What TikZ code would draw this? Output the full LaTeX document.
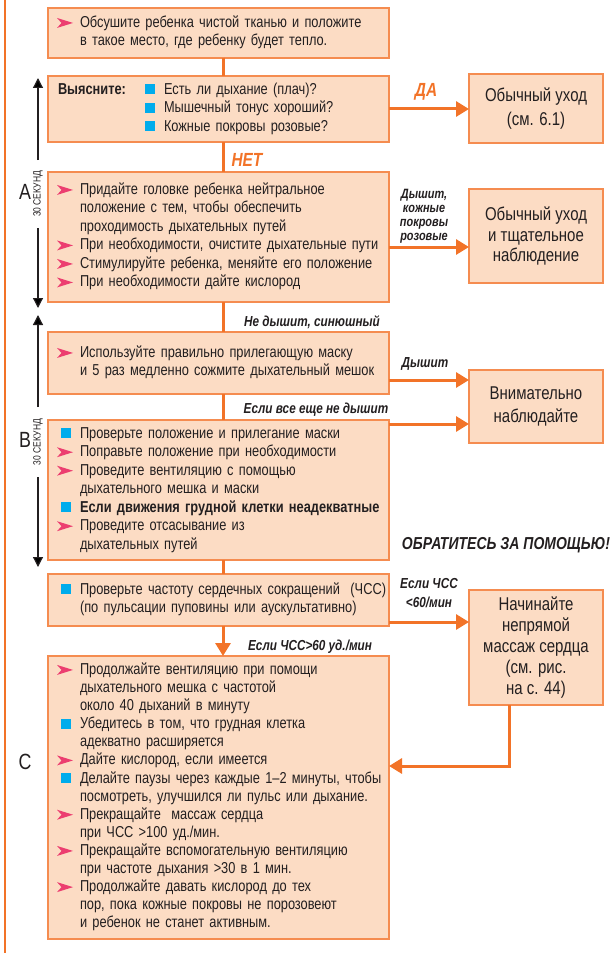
\documentclass[tikz,border=0pt]{standalone}
\usepackage{fontspec}
\setmainfont[FakeStretch=0.81]{Liberation Sans}
\usetikzlibrary{arrows.meta}
\definecolor{boxfill}{RGB}{252,220,196}
\definecolor{boxline}{RGB}{245,140,80}
\definecolor{connc}{RGB}{242,115,40}
\definecolor{pinkc}{RGB}{236,62,112}
\definecolor{bluec}{RGB}{0,172,236}
\definecolor{textc}{RGB}{35,31,32}
\newcommand{\pk}{\makebox[28pt][l]{\hspace{5pt}\tikz[baseline=0.5pt]\fill[pinkc] (0pt,0pt)--(16pt,5pt)--(0pt,10pt)--(4.5pt,5pt)--cycle;}}
\newcommand{\sqb}{\makebox[28pt][l]{\hspace{9pt}\textcolor{bluec}{\rule[0pt]{10pt}{10pt}}}}
\newcommand{\ind}{\hspace*{28pt}}
\begin{document}
\begin{tikzpicture}[x=1pt,y=-1pt,
  box/.style={draw=boxline, fill=boxfill, line width=1.3pt, inner sep=0pt, outer sep=0pt, rectangle, anchor=north west, text=textc, minimum width=341pt, text width=333pt, align=left},
  tbox/.style={draw=boxline, fill=boxfill, line width=1.3pt, inner sep=0pt, outer sep=0pt, rectangle, anchor=north west, text=textc, minimum width=134pt, align=center},
  conn/.style={draw=connc, line width=3pt},
  arr/.style={draw=connc, line width=3pt, -{Triangle[length=13pt,width=15pt]}},
  blk/.style={draw=textc, line width=1.2pt, -{Triangle[length=10pt,width=10pt]}},
  lbl/.style={text=textc, font=\fontsize{14.5}{15}\selectfont\bfseries\itshape, inner sep=0pt},
  olbl/.style={text=connc, font=\fontsize{19}{19}\selectfont\bfseries\itshape, inner sep=0pt},
  bigl/.style={text=textc, font=\fontsize{22}{22}\selectfont, inner sep=0pt},
  secl/.style={text=textc, font=\fontsize{10.5}{11}\selectfont, inner sep=0pt, rotate=90},
  mainf/.style={font=\fontsize{15.8}{18.5}\selectfont}
]
\useasboundingbox (0,0) rectangle (614,955);
% left orange rule
\coordinate (ltop) at (5,0);
\coordinate (lbot) at (5,953);
\draw[draw=connc, line width=1.3pt] (ltop) -- (lbot);
% spine coordinates
\coordinate (sx) at (223,0);
% boxes
\node[box, mainf, minimum height=50pt] (b1) at (48,8) {\begin{tabular}{@{}l@{}}
\pk Обсушите ребенка чистой тканью и положите\\
\ind в такое место, где ребенку будет тепло.
\end{tabular}};
\node[box, mainf, minimum height=66pt] (b2) at (48,76) {\begin{tabular}{@{}l@{}}
\hspace*{6pt}\makebox[87pt][l]{\textbf{Выясните:}}\textcolor{bluec}{\rule{10pt}{10pt}}\hspace{9pt}Есть ли дыхание (плач)?\\
\hspace*{93pt}\textcolor{bluec}{\rule{10pt}{10pt}}\hspace{9pt}Мышечный тонус хороший?\\
\hspace*{93pt}\textcolor{bluec}{\rule{10pt}{10pt}}\hspace{9pt}Кожные покровы розовые?
\end{tabular}};
\node[box, mainf, minimum height=130pt] (ba) at (48,172) {\begin{tabular}{@{}l@{}}
\pk Придайте головке ребенка нейтральное\\
\ind положение с тем, чтобы обеспечить\\
\ind проходимость дыхательных путей\\
\pk При необходимости, очистите дыхательные пути\\
\pk Стимулируйте ребенка, меняйте его положение\\
\pk При необходимости дайте кислород
\end{tabular}};
\node[box, mainf, minimum height=62pt] (bb1) at (48,332) {\begin{tabular}{@{}l@{}}
\pk Используйте правильно прилегающую маску\\
\ind и 5 раз медленно сожмите дыхательный мешок
\end{tabular}};
\node[box, mainf, minimum height=140pt] (bb2) at (48,420) {\begin{tabular}{@{}l@{}}
\sqb Проверьте положение и прилегание маски\\
\pk Поправьте положение при необходимости\\
\pk Проведите вентиляцию с помощью\\
\ind дыхательного мешка и маски\\
\sqb \textbf{Если движения грудной клетки неадекватные}\\
\pk Проведите отсасывание из\\
\ind дыхательных путей
\end{tabular}};
\node[box, mainf, minimum height=52pt] (ch) at (48,574) {\begin{tabular}{@{}l@{}}
\sqb Проверьте частоту сердечных сокращений\ \ (ЧСС)\\
\ind (по пульсации пуповины или аускультативно)
\end{tabular}};
\node[box, font=\fontsize{15.8}{18.1}\selectfont, minimum height=283pt] (c) at (48,656) {\begin{tabular}{@{}l@{}}
\pk Продолжайте вентиляцию при помощи\\
\ind дыхательного мешка с частотой\\
\ind около 40 дыханий в минуту\\
\sqb Убедитесь в том, что грудная клетка\\
\ind адекватно расширяется\\
\pk Дайте кислород, если имеется\\
\sqb Делайте паузы через каждые 1–2 минуты, чтобы\\
\ind посмотреть, улучшился ли пульс или дыхание.\\
\pk Прекращайте\ \ массаж сердца\\
\ind при ЧСС >100 уд./мин.\\
\pk Прекращайте вспомогательную вентиляцию\\
\ind при частоте дыхания >30 в 1 мин.\\
\pk Продолжайте давать кислород до тех\\
\ind пор, пока кожные покровы не порозовеют\\
\ind и ребенок не станет активным.
\end{tabular}};
% target boxes
\node[tbox, font=\fontsize{18.5}{24}\selectfont, minimum height=69pt] (t1) at (469,74) {Обычный уход\\(см. 6.1)};
\node[tbox, font=\fontsize{18.5}{20.5}\selectfont, minimum height=94pt] (t2) at (469,189) {Обычный уход\\и тщательное\\наблюдение};
\node[tbox, font=\fontsize{18.5}{23}\selectfont, minimum height=73pt] (t3) at (469,370) {Внимательно\\наблюдайте};
\node[tbox, font=\fontsize{18.5}{21.2}\selectfont, minimum height=115pt] (t4) at (469,590) {Начинайте\\непрямой\\массаж сердца\\(см. рис.\\на с. 44)};
% vertical connectors
\draw[conn] (b1.south -| sx) -- (b2.north -| sx);
\draw[conn] (b2.south -| sx) -- (ba.north -| sx);
\draw[conn] (ba.south -| sx) -- (bb1.north -| sx);
\draw[conn] (bb1.south -| sx) -- (bb2.north -| sx);
\draw[conn] (bb2.south -| sx) -- (ch.north -| sx);
\draw[arr] (ch.south -| sx) -- (c.north -| sx);
% horizontal arrows
\coordinate (ya) at (0,247);
\coordinate (yb1) at (0,380);
\coordinate (yb2) at (0,424);
\coordinate (yc) at (0,622);
\coordinate (rx) at (509,0);
\coordinate (ry) at (0,766);
\draw[arr] (b2.east) -- (b2.east -| t1.west);
\draw[arr] (ba.east |- ya) -- (t2.west |- ya);
\draw[arr] (bb1.east |- yb1) -- (t3.west |- yb1);
\draw[arr] (bb2.east |- yb2) -- (t3.west |- yb2);
\draw[arr] (ch.east |- yc) -- (t4.west |- yc);
\draw[arr] (t4.south -| rx) |- (c.east |- ry);
% labels
\node[olbl] (lda) at (426,92) {ДА};
\node[olbl] (lnet) at (247,160) {НЕТ};
\node[lbl, align=center, font=\fontsize{13.5}{14}\selectfont\bfseries\itshape] (ldys) at (424,216) {Дышит,\\кожные\\покровы\\розовые};
\node[lbl] (lnd) at (312,322) {Не дышит, синюшный};
\node[lbl] (ld) at (425,364) {Дышит};
\node[lbl] (lvse) at (316,410) {Если все еще не дышит};
\node[lbl, font=\fontsize{17.3}{17}\selectfont\bfseries\itshape] (lhelp) at (506,545) {ОБРАТИТЕСЬ ЗА ПОМОЩЬЮ!};
\node[lbl, align=center, font=\fontsize{14.5}{19}\selectfont\bfseries\itshape] (lchs) at (429,593) {Если ЧСС\\<60/мин};
\node[lbl] (lchs2) at (310,647) {Если ЧСС>60 уд./мин};
% left time markers
\coordinate (a1) at (38,160);
\coordinate (a2) at (38,78);
\coordinate (a3) at (38,228);
\coordinate (a4) at (38,308);
\coordinate (b1a) at (38,407);
\coordinate (b2a) at (38,315);
\coordinate (b3a) at (38,477);
\coordinate (b4a) at (38,567);
\draw[blk] (a1) -- (a2);
\draw[blk] (a3) -- (a4);
\draw[blk] (b1a) -- (b2a);
\draw[blk] (b3a) -- (b4a);
\node[secl] (sa) at (38,194) {30 СЕКУНД};
\node[secl] (sb) at (38,442) {30 СЕКУНД};
\node[bigl] (la) at (25,192) {A};
\node[bigl] (lb) at (25,440) {B};
\node[bigl] (lc) at (25,762) {C};
\end{tikzpicture}
\end{document}
